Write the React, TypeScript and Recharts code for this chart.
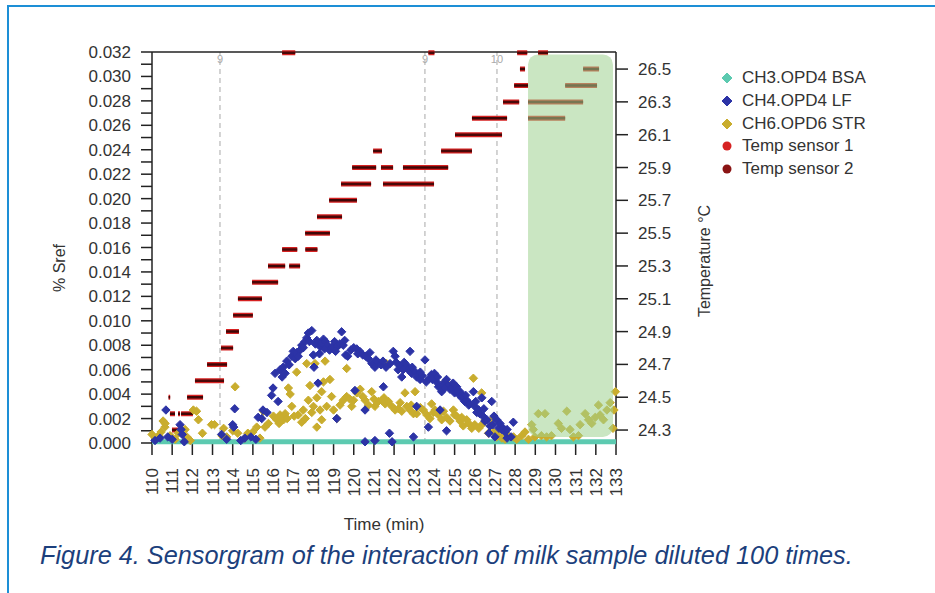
import React from 'react';
import {
  ComposedChart,
  Scatter,
  Line,
  XAxis,
  YAxis,
  ReferenceArea,
  ReferenceLine,
} from 'recharts';

// ---------------- data ----------------
const timeTicks = [110, 111, 112, 113, 114, 115, 116, 117, 118, 119, 120, 121, 122, 123, 124, 125, 126, 127, 128, 129, 130, 131, 132, 133];
const srefTicks = [0, 0.001, 0.002, 0.003, 0.004, 0.005, 0.006, 0.007, 0.008, 0.009, 0.01, 0.011, 0.012, 0.013, 0.014, 0.015, 0.016, 0.017, 0.018, 0.019, 0.02, 0.021, 0.022, 0.023, 0.024, 0.025, 0.026, 0.027, 0.028, 0.029, 0.03, 0.031, 0.032];
const srefLabelTicks = [0, 0.002, 0.004, 0.006, 0.008, 0.01, 0.012, 0.014, 0.016, 0.018, 0.02, 0.022, 0.024, 0.026, 0.028, 0.03, 0.032];
const tempTicks = [24.3, 24.5, 24.7, 24.9, 25.1, 25.3, 25.5, 25.7, 25.9, 26.1, 26.3, 26.5];

// CH3.OPD4 BSA (flat at ~0)
const bsaTimes = [110, 112, 114, 116, 118, 120, 122, 124, 126, 128, 130, 132, 133];
const bsaValues = [0.0001, 0.0001, 0.0001, 0.0001, 0.0001, 0.0001, 0.0001, 0.0001, 0.0001, 0.0001, 0.0001, 0.0001, 0.0001];

// CH4.OPD4 LF  [time, %Sref]
const lfPoints: [number, number][] = [
  [110.15, 0.0002], [110.4, 0.0004], [110.69, 0.0027], [110.78, 0.0005], [111.0, 0.0003], [111.39, 0.0015], [111.44, 0.0011], [111.5, 0.0007], [111.6, 0.0001],
  [113.45, 0.0007], [113.7, 0.0003], [114.0, 0.0015], [114.1, 0.0028], [114.05, 0.0013], [114.4, 0.0002], [114.6, 0.0004], [114.9, 0.0005], [115.15, 0.0003],
  [115.26, 0.0021], [115.44, 0.002], [115.5, 0.0027], [115.7, 0.0025], [115.93, 0.0039], [116.0, 0.0045], [116.1, 0.0057], [116.25, 0.0034], [116.35, 0.006],
  [116.45, 0.0054], [116.5, 0.0062], [116.6, 0.0057], [116.68, 0.0067], [116.8, 0.0064], [116.93, 0.0071], [117.0, 0.0075], [117.1, 0.0069], [117.17, 0.0074],
  [117.34, 0.0076], [117.42, 0.008], [117.5, 0.0078], [117.58, 0.0083], [117.67, 0.0086], [117.75, 0.009], [117.92, 0.0092], [118.0, 0.0072], [118.03, 0.0062],
  [118.1, 0.0081], [118.17, 0.0084], [118.23, 0.0049], [118.3, 0.0073], [118.33, 0.0079], [118.41, 0.0082], [118.5, 0.0085], [118.6, 0.0083], [118.7, 0.008],
  [118.8, 0.0076], [118.95, 0.0079], [119.05, 0.0083], [119.16, 0.002], [119.2, 0.0079], [119.3, 0.0081], [119.4, 0.0091], [119.48, 0.008], [119.6, 0.0072],
  [119.7, 0.0071], [119.85, 0.0076], [120.0, 0.0078], [120.06, 0.0043], [120.15, 0.0077], [120.3, 0.0075], [120.45, 0.0072], [120.56, 0.0027], [120.56, 0.0001],
  [120.6, 0.0071], [120.73, 0.0069], [120.9, 0.0065], [121.05, 0.0062], [121.05, 0.0002], [121.2, 0.0066], [121.35, 0.0064], [121.47, 0.0046], [121.6, 0.0062],
  [121.77, 0.0008], [121.9, 0.0001], [121.96, 0.0075], [122.05, 0.0071], [122.2, 0.006], [122.3, 0.0063], [122.38, 0.0054], [122.5, 0.0066], [122.6, 0.0064],
  [122.7, 0.006], [122.79, 0.0075], [122.87, 0.0057], [122.96, 0.0005], [123.0, 0.0059], [123.12, 0.003], [123.12, 0.0054], [123.2, 0.0056], [123.29, 0.0052],
  [123.4, 0.0055], [123.53, 0.0068], [123.6, 0.005], [123.7, 0.0013], [123.75, 0.0053], [123.85, 0.0056], [124.0, 0.0057], [124.1, 0.005], [124.2, 0.0046],
  [124.28, 0.0027], [124.36, 0.0042], [124.45, 0.0049], [124.6, 0.0052], [124.6, 0.001], [124.7, 0.0047], [124.77, 0.0044], [124.85, 0.0045], [124.93, 0.0049],
  [125.0, 0.0041], [125.1, 0.0046], [125.2, 0.004], [125.27, 0.0042], [125.35, 0.0037], [125.43, 0.0038], [125.5, 0.0034], [125.6, 0.0035], [125.7, 0.0031],
  [125.76, 0.0032], [125.93, 0.0042], [126.0, 0.003], [126.1, 0.0025], [126.2, 0.0027], [126.25, 0.0024], [126.35, 0.0037], [126.4, 0.0022], [126.5, 0.0018],
  [126.6, 0.0019], [126.7, 0.0008], [126.75, 0.0014], [126.84, 0.0034], [126.9, 0.0015], [127.0, 0.0005], [127.09, 0.0019], [127.2, 0.0012], [127.34, 0.0011],
  [127.42, 0.0012], [127.5, 0.0009], [127.6, 0.0011], [127.6, 0.0004], [127.8, 0.0005], [127.91, 0.0017],
  [117.25, 0.0071], [117.8, 0.0083], [118.55, 0.0077], [119.1, 0.0075], [119.55, 0.0084], [120.2, 0.0073], [120.8, 0.0074], [121.1, 0.0068], [121.45, 0.0067],
  [121.8, 0.0065], [122.1, 0.0066], [122.45, 0.006], [122.9, 0.0062], [123.3, 0.0058], [123.9, 0.0052], [124.15, 0.0054], [124.5, 0.0045], [125.15, 0.0043],
  [125.55, 0.0039], [126.05, 0.0034], [126.45, 0.0028], [126.95, 0.0022], [127.25, 0.0016],
];

// CH6.OPD6 STR  [time, %Sref]
const strPoints: [number, number][] = [
  [110.0, 0.0007], [110.17, 0.0004], [110.33, 0.0006], [110.45, 0.0009], [110.55, 0.0018], [110.64, 0.0013], [110.65, 0.0016], [110.9, 0.0006], [111.15, 0.0003],
  [111.3, 0.0008], [111.64, 0.0011], [111.73, 0.0005], [111.9, 0.0002], [112.05, 0.0027], [112.21, 0.0026], [112.3, 0.0019], [112.5, 0.0008], [112.95, 0.0015],
  [113.1, 0.0015], [113.55, 0.0012], [113.47, 0.0006], [113.7, 0.0005], [114.12, 0.0046], [114.0, 0.001], [114.25, 0.0008], [114.6, 0.0004], [114.75, 0.0008],
  [115.0, 0.0009], [115.19, 0.0013], [115.35, 0.0004], [115.52, 0.0026], [115.6, 0.0013], [115.77, 0.0016], [116.02, 0.0022], [116.18, 0.0019], [116.35, 0.0023],
  [116.52, 0.0019], [116.6, 0.0024], [116.76, 0.0045], [116.85, 0.004], [116.93, 0.003], [117.17, 0.0058], [117.25, 0.0023], [117.42, 0.0017], [117.5, 0.0027],
  [117.67, 0.0065], [117.75, 0.0035], [117.83, 0.0047], [117.92, 0.0025], [118.08, 0.0065], [118.17, 0.0013], [118.17, 0.0037], [118.33, 0.0027], [118.41, 0.0042],
  [118.41, 0.0019], [118.5, 0.005], [118.58, 0.0067], [118.66, 0.003], [118.82, 0.0052], [118.9, 0.0038], [119.0, 0.0027], [119.16, 0.002], [119.32, 0.0031],
  [119.48, 0.0035], [119.65, 0.0061], [119.65, 0.0038], [119.9, 0.003], [119.99, 0.0035], [120.15, 0.0041], [120.32, 0.0044], [120.56, 0.0035], [120.73, 0.0031],
  [120.89, 0.0042], [121.05, 0.003], [121.22, 0.0034], [121.39, 0.0035], [121.56, 0.0032], [121.63, 0.0065], [121.72, 0.0034], [121.89, 0.003], [122.05, 0.0027],
  [122.22, 0.0028], [122.38, 0.0026], [122.54, 0.0041], [122.63, 0.003], [122.79, 0.0027], [122.96, 0.0024], [123.04, 0.0042], [123.12, 0.0024], [123.45, 0.0027],
  [123.62, 0.0023], [123.78, 0.002], [123.86, 0.0032], [124.03, 0.0027], [124.2, 0.0023], [124.36, 0.0019], [124.53, 0.005], [124.6, 0.0021], [124.77, 0.0018],
  [124.94, 0.0027], [125.1, 0.0022], [125.27, 0.0018], [125.43, 0.0014], [125.6, 0.0019], [125.93, 0.0053], [125.85, 0.0012], [126.0, 0.0015], [126.34, 0.0041],
  [126.35, 0.0015], [126.52, 0.0019], [126.68, 0.0008], [126.84, 0.0019], [126.93, 0.0009], [127.09, 0.0005], [127.17, 0.0006], [127.34, 0.0004], [127.5, 0.0003],
  [127.66, 0.0006], [127.92, 0.0005], [128.08, 0.0003], [128.33, 0.0006], [128.49, 0.0009], [128.66, 0.0003], [128.82, 0.0015], [128.9, 0.0011], [128.98, 0.0005],
  [129.15, 0.0024], [129.3, 0.0006], [129.48, 0.0024], [129.56, 0.0005], [129.8, 0.0006], [130.14, 0.0016], [130.3, 0.0012], [130.56, 0.0026], [130.72, 0.0011],
  [130.89, 0.0005], [131.14, 0.0006], [131.22, 0.0015], [131.47, 0.0024], [131.64, 0.0019], [131.8, 0.0016], [131.97, 0.0021], [132.13, 0.0031], [132.21, 0.0023],
  [132.38, 0.0019], [132.55, 0.0027], [132.71, 0.0033], [132.85, 0.0012], [132.9, 0.0027], [132.97, 0.0042],
  [119.8, 0.0036], [120.45, 0.0038], [121.0, 0.0036], [121.5, 0.0037], [122.3, 0.0033], [122.85, 0.0031], [123.3, 0.0029], [123.95, 0.0025], [124.45, 0.0026],
  [125.0, 0.0023], [125.35, 0.0021], [125.7, 0.0016], [126.2, 0.0012], [116.3, 0.0016], [116.7, 0.002], [117.05, 0.0022], [117.6, 0.002], [118.0, 0.003],
];

// Temperature step segments [start min, end min, °C]
const tempSensor1Segments: [number, number, number][] = [
  [110.82, 110.9, 24.5], [110.89, 111.14, 24.4], [111.29, 111.39, 24.4], [111.44, 112.03, 24.4], [111.74, 112.53, 24.5],
  [112.73, 113.72, 24.7], [113.67, 114.31, 24.9], [114.26, 115.45, 25.1], [115.75, 116.6, 25.3], [116.8, 117.34, 25.3],
  [117.59, 118.82, 25.5], [118.78, 120.16, 25.7], [119.92, 121.11, 25.9], [120.96, 121.4, 26.0], [122.44, 124.68, 25.9],
  [125.86, 127.6, 26.2], [127.95, 128.64, 26.4], [128.24, 128.49, 26.5], [130.48, 132.06, 26.4], [131.37, 132.16, 26.5],
];
const tempSensor2Segments: [number, number, number][] = [
  [110.99, 111.64, 24.3], [112.13, 113.57, 24.6], [113.42, 114.02, 24.8], [114.02, 115.0, 25.0], [114.96, 116.25, 25.2],
  [116.45, 117.2, 25.4], [117.6, 118.2, 25.4], [118.18, 119.42, 25.6], [119.37, 120.86, 25.8], [121.35, 121.95, 25.9],
  [121.45, 123.98, 25.8], [124.33, 125.86, 26.0], [125.02, 127.35, 26.1], [127.4, 128.2, 26.3], [128.64, 131.37, 26.3],
  [128.64, 130.48, 26.2], [116.45, 117.1, 26.6], [123.7, 124.0, 26.6], [128.1, 128.6, 26.6], [129.14, 129.63, 26.6],
];

const eventTimes = [113.37, 123.53, 127.1];
const eventLabels = ['9', '9', '10'];

// ---------------- derived series ----------------
const toPts = (arr: [number, number][]) => arr.map(([t, y]) => ({ t, y }));
const toSegLine = (segs: [number, number, number][]) =>
  segs.flatMap(([a, b, v]) => [
    { t: a, y: v },
    { t: b, y: v },
    { t: b, y: null as number | null },
  ]);

const bsaData = bsaTimes.map((t, i) => ({ t, y: bsaValues[i] }));
const lfData = toPts(lfPoints);
const strData = toPts(strPoints);
const temp1Data = toSegLine(tempSensor1Segments);
const temp2Data = toSegLine(tempSensor2Segments);

const FONT = '"Liberation Sans", Arial, Helvetica, sans-serif';
const TEXT = '#333';

const COLORS = {
  bsa: '#5ccab0',
  lf: '#2c33a6',
  str: '#c9ad2e',
  t1: '#d62222',
  t2: '#8a1414',
};

const makeDiamond = (color: string) => (props: any) => {
  const { cx, cy } = props;
  if (cx == null || cy == null) return null;
  const r = 4.2;
  return (
    <polygon
      points={`${cx},${cy - r} ${cx + r},${cy} ${cx},${cy + r} ${cx - r},${cy}`}
      fill={color}
      stroke={color}
      strokeWidth={1}
      strokeLinejoin="round"
    />
  );
};
const StrShape = makeDiamond(COLORS.str);
const LfShape = makeDiamond(COLORS.lf);

const LeftTick = (props: any) => {
  const { x, y, payload } = props;
  const v = payload.value;
  const show = srefLabelTicks.some((s) => Math.abs(s - v) < 1e-9);
  if (!show) return null;
  return (
    <text x={x} y={y} dy={6} textAnchor="end" fontSize={17} fill={TEXT} fontFamily={FONT}>
      {v.toFixed(3)}
    </text>
  );
};

const RightTick = (props: any) => {
  const { x, y, payload } = props;
  return (
    <text x={x} y={y} dy={6} textAnchor="start" fontSize={17} fill={TEXT} fontFamily={FONT}>
      {Number(payload.value).toFixed(1)}
    </text>
  );
};

const BottomTick = (props: any) => {
  const { x, y, payload } = props;
  return (
    <text
      x={x}
      y={y}
      dy={6}
      textAnchor="end"
      transform={`rotate(-90, ${x}, ${y})`}
      fontSize={17}
      fill={TEXT}
      fontFamily={FONT}
    >
      {payload.value}
    </text>
  );
};

const legendItems = [
  { label: 'CH3.OPD4 BSA', color: COLORS.bsa, shape: 'diamond' },
  { label: 'CH4.OPD4 LF', color: COLORS.lf, shape: 'diamond' },
  { label: 'CH6.OPD6 STR', color: COLORS.str, shape: 'diamond' },
  { label: 'Temp sensor 1', color: COLORS.t1, shape: 'circle' },
  { label: 'Temp sensor 2', color: COLORS.t2, shape: 'circle' },
];

const GreenShape = (props: any) => {
  const { x, y, width, height } = props;
  return <rect x={x} y={y} width={width} height={height} rx={10} ry={10} fill="#9fd28f" fillOpacity={0.55} />;
};

export default function App() {
  return (
    <div
      style={{
        position: 'absolute',
        left: 0,
        top: 0,
        width: 935,
        height: 593,
        overflow: 'hidden',
        background: '#fff',
        fontFamily: FONT,
      }}
    >
      {/* figure frame */}
      <div style={{ position: 'absolute', left: 7, top: 5, width: 940, height: 600, borderLeft: '2.5px solid #1d8fd6', borderTop: '2.5px solid #1d8fd6' }} />

      <div style={{ position: 'absolute', left: 0, top: 0 }}>
        <ComposedChart width={935} height={593} margin={{ top: 52, right: 229, bottom: 0, left: 0 }}>
          <XAxis
            xAxisId="x"
            dataKey="t"
            type="number"
            domain={[110, 133]}
            ticks={timeTicks}
            interval={0}
            height={150}
            tickSize={12}
            tickMargin={13}
            tick={<BottomTick />}
            axisLine={{ stroke: '#222', strokeWidth: 1.5 }}
            tickLine={{ stroke: '#222', strokeWidth: 1.5 }}
          />
          <YAxis
            yAxisId="left"
            dataKey="y"
            type="number"
            domain={[0, 0.032]}
            ticks={srefTicks}
            interval={0}
            width={152}
            tickSize={11}
            tickMargin={10}
            tick={<LeftTick />}
            axisLine={{ stroke: '#222', strokeWidth: 1.5 }}
            tickLine={{ stroke: '#222', strokeWidth: 1.5 }}
          />
          <YAxis
            yAxisId="right"
            orientation="right"
            dataKey="y"
            type="number"
            domain={[24.221, 26.604]}
            ticks={tempTicks}
            interval={0}
            width={90}
            tickSize={12}
            tickMargin={10}
            tick={<RightTick />}
            axisLine={{ stroke: '#222', strokeWidth: 1.5 }}
            tickLine={{ stroke: '#222', strokeWidth: 1.5 }}
          />

          {eventTimes.map((t, i) => (
            <ReferenceLine
              key={'ev' + i}
              x={t}
              xAxisId="x"
              yAxisId="left"
              stroke="#a8a8a8"
              strokeDasharray="5 4"
              label={{ value: eventLabels[i], position: 'insideTop', fontSize: 11, fill: '#aaa', dy: -2 }}
            />
          ))}
          <ReferenceLine y={0.032} xAxisId="x" yAxisId="left" stroke="#222" strokeWidth={1.5} />

          <Line
            data={bsaData}
            xAxisId="x"
            yAxisId="left"
            dataKey="y"
            stroke={COLORS.bsa}
            strokeWidth={5}
            dot={false}
            zIndex={550}
            isAnimationActive={false}
          />
          <Line
            data={temp1Data}
            xAxisId="x"
            yAxisId="right"
            dataKey="y"
            stroke={COLORS.t1}
            strokeWidth={5}
            dot={false}
            connectNulls={false}
            isAnimationActive={false}
          />
          <Line
            data={temp1Data}
            xAxisId="x"
            yAxisId="right"
            dataKey="y"
            stroke="#3e0606"
            strokeWidth={2.5}
            dot={false}
            connectNulls={false}
            legendType="none"
            isAnimationActive={false}
          />
          <Line
            data={temp2Data}
            xAxisId="x"
            yAxisId="right"
            dataKey="y"
            stroke={COLORS.t1}
            strokeWidth={5}
            dot={false}
            connectNulls={false}
            legendType="none"
            isAnimationActive={false}
          />
          <Line
            data={temp2Data}
            xAxisId="x"
            yAxisId="right"
            dataKey="y"
            stroke="#4a0808"
            strokeWidth={2.5}
            dot={false}
            connectNulls={false}
            isAnimationActive={false}
          />
          <Scatter
            data={strData}
            xAxisId="x"
            yAxisId="left"
            dataKey="y"
            fill={COLORS.str}
            shape={<StrShape />}
            isAnimationActive={false}
          />
          <Scatter
            data={lfData}
            xAxisId="x"
            yAxisId="left"
            dataKey="y"
            fill={COLORS.lf}
            shape={<LfShape />}
            isAnimationActive={false}
          />
          <ReferenceArea
            xAxisId="x"
            yAxisId="left"
            x1={128.64}
            x2={132.85}
            y1={0.0005}
            y2={0.0318}
            shape={<GreenShape />}
            zIndex={800}
          />
        </ComposedChart>
      </div>

      {/* axis titles */}
      <div
        style={{
          position: 'absolute',
          left: 60,
          top: 268,
          transform: 'translate(-50%, -50%) rotate(-90deg)',
          fontSize: 16,
          color: TEXT,
          whiteSpace: 'nowrap',
        }}
      >
        % Sref
      </div>
      <div
        style={{
          position: 'absolute',
          left: 705,
          top: 261,
          transform: 'translate(-50%, -50%) rotate(-90deg)',
          fontSize: 16,
          color: TEXT,
          whiteSpace: 'nowrap',
        }}
      >
        Temperature °C
      </div>
      <div
        style={{
          position: 'absolute',
          left: 384,
          top: 525,
          transform: 'translate(-50%, -50%)',
          fontSize: 17,
          color: TEXT,
          whiteSpace: 'nowrap',
        }}
      >
        Time (min)
      </div>

      {/* legend */}
      <div style={{ position: 'absolute', left: 719, top: 67 }}>
        {legendItems.map((it) => (
          <div key={it.label} style={{ display: 'flex', alignItems: 'center', height: 22.7 }}>
            <svg width={20} height={14} style={{ marginRight: 3 }}>
              {it.shape === 'diamond' ? (
                <polygon points="8,2 13,7 8,12 3,7" fill={it.color} stroke={it.color} strokeLinejoin="round" />
              ) : (
                <circle cx={8} cy={7} r={4.5} fill={it.color} />
              )}
            </svg>
            <span style={{ fontSize: 17, color: TEXT, whiteSpace: 'nowrap' }}>{it.label}</span>
          </div>
        ))}
      </div>

      {/* caption */}
      <div
        style={{
          position: 'absolute',
          left: 40,
          top: 541,
          fontSize: 25.3,
          fontStyle: 'italic',
          color: '#1c3f7c',
          whiteSpace: 'nowrap',
        }}
      >
        Figure 4. Sensorgram of the interaction of milk sample diluted 100 times.
      </div>
    </div>
  );
}
